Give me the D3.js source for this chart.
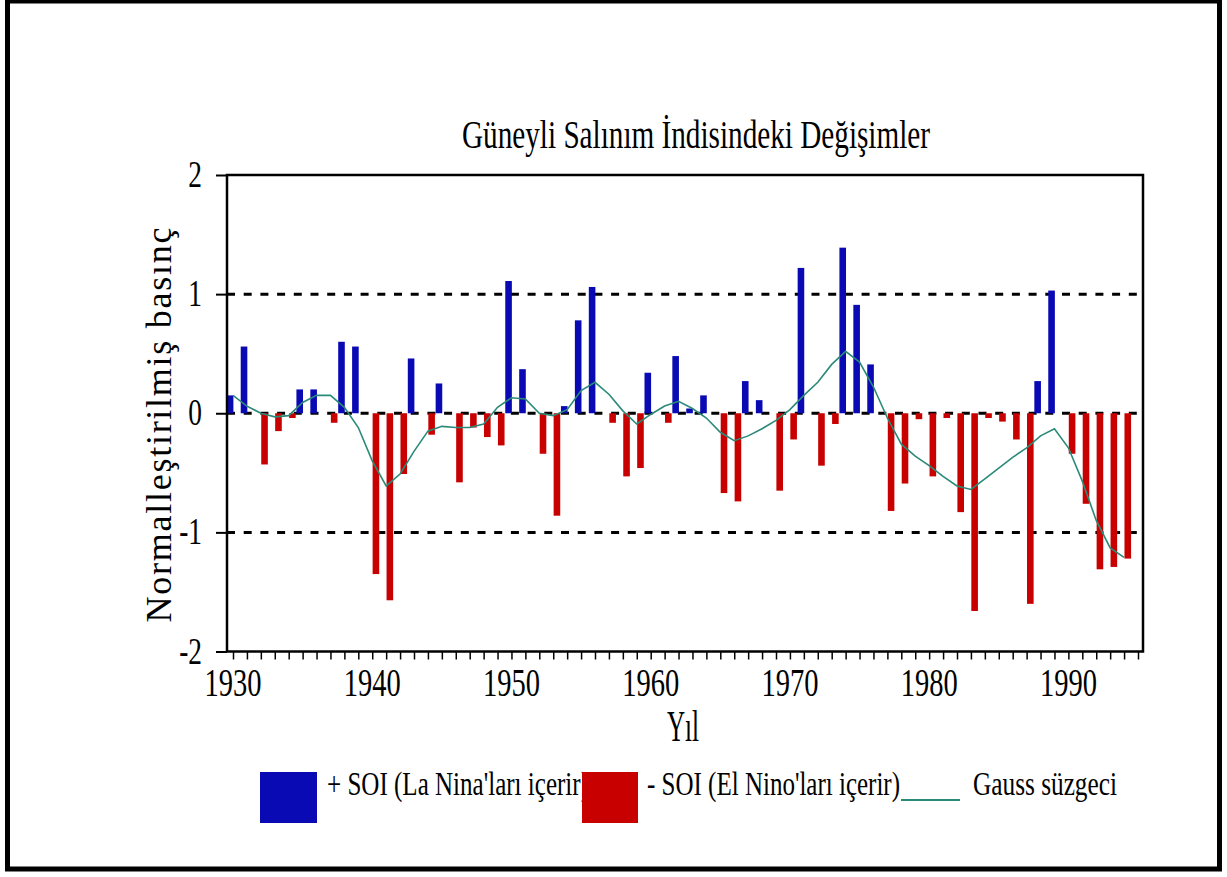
<!DOCTYPE html>
<html><head><meta charset="utf-8">
<script src="https://cdn.jsdelivr.net/npm/d3@7"></script>
<style>html,body{margin:0;padding:0;background:#fff;overflow:hidden}</style>
</head><body>
<script>
const years = [1930,1931,1932,1933,1934,1935,1936,1937,1938,1939,
  1940,1941,1942,1943,1944,1945,1946,1947,1948,1949,
  1950,1951,1952,1953,1954,1955,1956,1957,1958,1959,
  1960,1961,1962,1963,1964,1965,1966,1967,1968,1969,
  1970,1971,1972,1973,1974,1975,1976,1977,1978,1979,
  1980,1981,1982,1983,1984,1985,1986,1987,1988,1989,
  1990,1991,1992,1993,1994];
const soi = [0.15,0.56,-0.43,-0.15,-0.04,0.20,0.20,-0.08,0.60,0.56,
  -1.35,-1.57,-0.51,0.46,-0.18,0.25,-0.58,-0.12,-0.20,-0.27,
  1.11,0.37,-0.34,-0.86,0.06,0.78,1.06,-0.08,-0.53,-0.46,
  0.34,-0.08,0.48,0.04,0.15,-0.67,-0.74,0.27,0.11,-0.65,
  -0.22,1.22,-0.44,-0.09,1.39,0.91,0.41,-0.82,-0.59,-0.05,
  -0.53,-0.04,-0.83,-1.66,-0.04,-0.07,-0.22,-1.60,0.27,1.03,
  -0.34,-0.76,-1.31,-1.29,-1.22];
const gauss = [0.15,0.06,0.00,-0.03,-0.02,0.09,0.15,0.15,0.05,-0.12,
  -0.40,-0.61,-0.51,-0.32,-0.15,-0.11,-0.12,-0.12,-0.09,0.05,
  0.13,0.12,0.00,-0.02,0.03,0.19,0.26,0.16,0.02,-0.09,
  -0.01,0.06,0.10,0.04,-0.04,-0.16,-0.23,-0.19,-0.13,-0.06,
  0.03,0.15,0.26,0.41,0.52,0.43,0.22,-0.04,-0.26,-0.36,
  -0.44,-0.53,-0.61,-0.64,-0.55,-0.46,-0.37,-0.29,-0.19,-0.13,
  -0.29,-0.57,-0.90,-1.13,-1.21];
const yTicks = [2,1,0,-1,-2];
const xLabelYears = [1930,1940,1950,1960,1970,1980,1990];
const xTickYears = [1930,1931,1932,1933,1934,1935,1936,1937,1938,1939,
  1940,1941,1942,1943,1944,1945,1946,1947,1948,1949,
  1950,1951,1952,1953,1954,1955,1956,1957,1958,1959,
  1960,1961,1962,1963,1964,1965,1966,1967,1968,1969,
  1970,1971,1972,1973,1974,1975,1976,1977,1978,1979,
  1980,1981,1982,1983,1984,1985,1986,1987,1988,1989,
  1990,1991,1992,1993,1994,1995];
const seriesKeys = ["pos","neg"];
const titleText = "Güneyli Salınım İndisindeki Değişimler";
const yTitle = "Normalleştirilmiş basınç";
const xTitle = "Yıl";
const legendLabels = ["+ SOI (La Nina'ları içerir)", "- SOI (El Nino'ları içerir)", "Gauss süzgeci"];

const W = 1227, H = 877;
const BLUE = "#0a0ab4", RED = "#c80000", TEAL = "#2a8a78";
const FONT = "'Liberation Serif', 'Times New Roman', serif";

const svg = d3.select("body").append("svg").attr("width", W).attr("height", H)
  .style("font-family", FONT);
svg.append("rect").attr("width", W).attr("height", H).attr("fill", "#fff");
svg.append("rect").attr("x", 7.5).attr("y", 1).attr("width", 1212).attr("height", 868)
  .attr("fill", "none").attr("stroke", "#000").attr("stroke-width", 5);

const frame = {l: 227, r: 1143, t: 175, b: 651.5};
const x = d3.scaleLinear().domain([1930, 1995]).range([233, 1138]);
const y = d3.scaleLinear().domain([-2, 2]).range([frame.b, frame.t]);
const inner = d3.scaleBand().domain(seriesKeys).range([-6.2, 7]).padding(0);

const data = years.map((yr, i) => ({year: yr, v: soi[i], g: gauss[i]}));

// dashed reference lines
svg.append("g").selectAll("line").data([1, 0, -1]).join("line")
  .attr("x1", frame.l).attr("x2", frame.r)
  .attr("y1", d => y(d)).attr("y2", d => y(d))
  .attr("stroke", "#000").attr("stroke-width", 3).attr("stroke-dasharray", "8,8.7");

// bars
svg.append("g").selectAll("rect").data(data).join("rect")
  .attr("x", d => x(d.year) + inner(d.v >= 0 ? "pos" : "neg"))
  .attr("width", inner.bandwidth())
  .attr("y", d => y(Math.max(0, d.v)))
  .attr("height", d => Math.abs(y(d.v) - y(0)))
  .attr("fill", d => d.v >= 0 ? BLUE : RED);

// gauss line
svg.append("path").datum(data)
  .attr("d", d3.line().x(d => x(d.year)).y(d => y(d.g)))
  .attr("fill", "none").attr("stroke", TEAL).attr("stroke-width", 1.6);

// frame
svg.append("rect").attr("x", frame.l).attr("y", frame.t)
  .attr("width", frame.r - frame.l).attr("height", frame.b - frame.t)
  .attr("fill", "none").attr("stroke", "#000").attr("stroke-width", 2.5);

// x axis
const xAxis = d3.axisBottom(x).tickValues(xTickYears).tickSize(8).tickFormat("");
const gx = svg.append("g").attr("transform", `translate(0,${frame.b})`).call(xAxis);
gx.select(".domain").remove();
gx.selectAll(".tick line").attr("stroke", "#000").attr("stroke-width", 1.5);
svg.append("g").selectAll("text").data(xLabelYears).join("text")
  .attr("x", d => x(d)).attr("y", 696).attr("text-anchor", "middle")
  .attr("font-size", 40).attr("textLength", 57).attr("lengthAdjust", "spacingAndGlyphs")
  .text(d => d);

// y axis
const yAxis = d3.axisLeft(y).tickValues(yTicks).tickSize(11).tickFormat("");
const gy = svg.append("g").attr("transform", `translate(${frame.l},0)`).call(yAxis);
gy.select(".domain").remove();
gy.selectAll(".tick line").attr("stroke", "#000").attr("stroke-width", 2);
svg.append("g").selectAll("text").data(yTicks).join("text")
  .attr("x", 202).attr("y", d => y(d) + 12).attr("text-anchor", "end")
  .attr("font-size", 38)
  .text(d => d)
  .each(function() {
    const w = this.getComputedTextLength();
    d3.select(this).attr("textLength", w * 0.72).attr("lengthAdjust", "spacingAndGlyphs");
  });

// titles
svg.append("text").attr("x", 696).attr("y", 148).attr("text-anchor", "middle")
  .attr("font-size", 40).attr("textLength", 468).attr("lengthAdjust", "spacingAndGlyphs")
  .text(titleText);
svg.append("text").attr("transform", "translate(171,425) rotate(-90)")
  .attr("text-anchor", "middle").attr("font-size", 36)
  .attr("textLength", 395).attr("lengthAdjust", "spacing")
  .text(yTitle);
svg.append("text").attr("x", 683).attr("y", 741).attr("text-anchor", "middle")
  .attr("font-size", 44).attr("textLength", 32).attr("lengthAdjust", "spacingAndGlyphs")
  .text(xTitle);

// legend
const lg = svg.append("g");
lg.append("rect").attr("x", 260).attr("y", 772).attr("width", 57).attr("height", 51).attr("fill", BLUE);
lg.append("text").attr("x", 327).attr("y", 795).attr("font-size", 33)
  .attr("textLength", 262).attr("lengthAdjust", "spacingAndGlyphs").text(legendLabels[0]);
lg.append("rect").attr("x", 582).attr("y", 772).attr("width", 56).attr("height", 51).attr("fill", RED);
lg.append("text").attr("x", 647).attr("y", 795).attr("font-size", 33)
  .attr("textLength", 253).attr("lengthAdjust", "spacingAndGlyphs").text(legendLabels[1]);
lg.append("line").attr("x1", 901).attr("x2", 960).attr("y1", 800).attr("y2", 800)
  .attr("stroke", TEAL).attr("stroke-width", 2);
lg.append("text").attr("x", 973).attr("y", 795).attr("font-size", 33)
  .attr("textLength", 144).attr("lengthAdjust", "spacingAndGlyphs").text(legendLabels[2]);
</script>
</body></html>
